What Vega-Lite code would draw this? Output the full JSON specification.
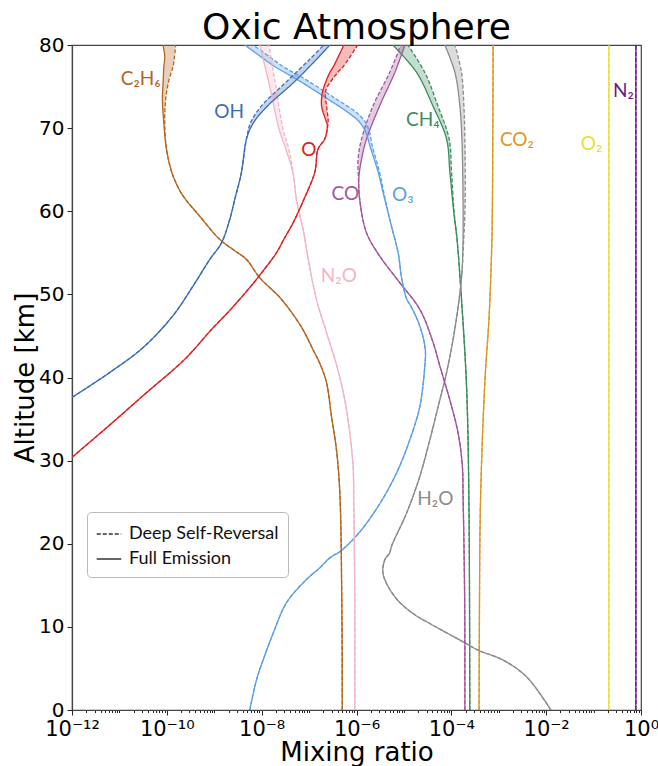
{
  "$schema": "https://vega.github.io/schema/vega-lite/v6.json",
  "width": 569,
  "height": 665,
  "autosize": {"type": "none"},
  "padding": {"left": 72, "top": 45, "right": 17, "bottom": 56},
  "title": {"text": "Oxic Atmosphere", "font": "DejaVu Sans", "fontSize": 36, "fontWeight": "normal", "color": "#000", "anchor": "middle", "frame": "group", "baseline": "alphabetic", "offset": 4, "dy": 44},
  "config": {
    "view": {"stroke": "#444", "strokeWidth": 1.2},
    "axis": {"grid": false, "domainColor": "#444", "domainWidth": 1.2, "tickColor": "#222", "labelColor": "#000", "titleColor": "#000", "labelFont": "DejaVu Sans", "titleFont": "DejaVu Sans", "titleFontWeight": "normal", "labelFontSize": 20, "titleFontSize": 26}
  },
  "datasets": {
    "profiles": [
      {"s":"N2","a":0,"f":0.78,"d":0.78},{"s":"N2","a":80,"f":0.78,"d":0.78},
      {"s":"O2","a":0,"f":0.21,"d":0.21},{"s":"O2","a":80,"f":0.21,"d":0.21},
      {"s":"CO2","a":0,"f":3.85e-4,"d":3.85e-4},{"s":"CO2","a":10,"f":3.9e-4,"d":3.9e-4},{"s":"CO2","a":25.3,"f":4.13e-4,"d":4.13e-4},{"s":"CO2","a":39.4,"f":5.09e-4,"d":5.09e-4},{"s":"CO2","a":47.4,"f":6.27e-4,"d":6.27e-4},{"s":"CO2","a":55,"f":7.05e-4,"d":7.05e-4},{"s":"CO2","a":60,"f":7.33e-4,"d":7.33e-4},{"s":"CO2","a":70,"f":7.5e-4,"d":7.5e-4},{"s":"CO2","a":80,"f":7.62e-4,"d":7.62e-4},
      {"s":"CH4","a":0,"f":2.45e-4,"d":2.45e-4},{"s":"CH4","a":26,"f":2.34e-4,"d":2.34e-4},{"s":"CH4","a":39,"f":2.09e-4,"d":2.09e-4},{"s":"CH4","a":50.6,"f":1.585e-4,"d":1.585e-4},{"s":"CH4","a":56.6,"f":1.32e-4,"d":1.32e-4},{"s":"CH4","a":60,"f":1.12e-4,"d":1.14e-4},{"s":"CH4","a":64.7,"f":9.33e-5,"d":1.01e-4},{"s":"CH4","a":68.7,"f":7.92e-5,"d":8.99e-5},{"s":"CH4","a":72.7,"f":4.07e-5,"d":5.19e-5},{"s":"CH4","a":76.7,"f":1.85e-5,"d":2.76e-5},{"s":"CH4","a":80,"f":5.83e-6,"d":1.21e-5},
      {"s":"H2O","a":0,"f":1.26e-2,"d":1.26e-2},{"s":"H2O","a":4,"f":3.85e-3,"d":3.85e-3},{"s":"H2O","a":6,"f":1.24e-3,"d":1.24e-3},{"s":"H2O","a":7.2,"f":3.67e-4,"d":3.67e-4},{"s":"H2O","a":8.2,"f":1.77e-4,"d":1.77e-4},{"s":"H2O","a":10.4,"f":3.52e-5,"d":3.52e-5},{"s":"H2O","a":11.6,"f":1.56e-5,"d":1.56e-5},{"s":"H2O","a":13.6,"f":6.46e-6,"d":6.46e-6},{"s":"H2O","a":16.4,"f":3.63e-6,"d":3.63e-6},{"s":"H2O","a":18.1,"f":3.98e-6,"d":3.98e-6},{"s":"H2O","a":18.9,"f":5.01e-6,"d":5.01e-6},{"s":"H2O","a":19.7,"f":5.47e-6,"d":5.47e-6},{"s":"H2O","a":23.7,"f":1.14e-5,"d":1.14e-5},{"s":"H2O","a":28.1,"f":2.16e-5,"d":2.16e-5},{"s":"H2O","a":32.5,"f":3.52e-5,"d":3.52e-5},{"s":"H2O","a":37.3,"f":5.71e-5,"d":5.71e-5},{"s":"H2O","a":40.2,"f":7.66e-5,"d":7.66e-5},{"s":"H2O","a":44.6,"f":1.09e-4,"d":1.09e-4},{"s":"H2O","a":49.4,"f":1.46e-4,"d":1.46e-4},{"s":"H2O","a":52.6,"f":1.67e-4,"d":1.67e-4},{"s":"H2O","a":55.4,"f":1.75e-4,"d":1.78e-4},{"s":"H2O","a":60.6,"f":1.77e-4,"d":1.95e-4},{"s":"H2O","a":68.7,"f":1.67e-4,"d":1.93e-4},{"s":"H2O","a":72.7,"f":1.51e-4,"d":1.84e-4},{"s":"H2O","a":76.7,"f":1.19e-4,"d":1.64e-4},{"s":"H2O","a":80,"f":7.29e-5,"d":1.19e-4},
      {"s":"CO","a":0,"f":1.93e-4,"d":1.93e-4},{"s":"CO","a":13.3,"f":1.91e-4,"d":1.91e-4},{"s":"CO","a":25.7,"f":1.77e-4,"d":1.77e-4},{"s":"CO","a":29.3,"f":1.71e-4,"d":1.71e-4},{"s":"CO","a":33.3,"f":1.39e-4,"d":1.39e-4},{"s":"CO","a":37.3,"f":9.29e-5,"d":9.29e-5},{"s":"CO","a":41.4,"f":5.71e-5,"d":5.71e-5},{"s":"CO","a":44.2,"f":4.13e-5,"d":4.13e-5},{"s":"CO","a":48.2,"f":2.16e-5,"d":2.16e-5},{"s":"CO","a":51.4,"f":8.2e-6,"d":8.2e-6},{"s":"CO","a":54.6,"f":3.09e-6,"d":3.09e-6},{"s":"CO","a":57.4,"f":1.63e-6,"d":1.63e-6},{"s":"CO","a":61.4,"f":1.17e-6,"d":1.17e-6},{"s":"CO","a":63.9,"f":1.12e-6,"d":1.1e-6},{"s":"CO","a":66.3,"f":1.28e-6,"d":1.08e-6},{"s":"CO","a":68.7,"f":1.63e-6,"d":1.28e-6},{"s":"CO","a":72.7,"f":3.09e-6,"d":2.24e-6},{"s":"CO","a":76.7,"f":6.43e-6,"d":5.01e-6},{"s":"CO","a":80,"f":1.05e-5,"d":8.61e-6},
      {"s":"O3","a":0,"f":5.61e-9,"d":5.61e-9},{"s":"O3","a":3.6,"f":7.76e-9,"d":7.76e-9},{"s":"O3","a":6,"f":1.07e-8,"d":1.07e-8},{"s":"O3","a":9.2,"f":1.74e-8,"d":1.74e-8},{"s":"O3","a":12.9,"f":3.33e-8,"d":3.33e-8},{"s":"O3","a":15.7,"f":8.81e-8,"d":8.81e-8},{"s":"O3","a":17.1,"f":1.68e-7,"d":1.68e-7},{"s":"O3","a":18.3,"f":2.74e-7,"d":2.74e-7},{"s":"O3","a":19.2,"f":4.83e-7,"d":4.83e-7},{"s":"O3","a":21.3,"f":1.12e-6,"d":1.12e-6},{"s":"O3","a":24.5,"f":2.86e-6,"d":2.86e-6},{"s":"O3","a":28.5,"f":6.98e-6,"d":6.98e-6},{"s":"O3","a":32.5,"f":1.33e-5,"d":1.33e-5},{"s":"O3","a":36.5,"f":2.16e-5,"d":2.16e-5},{"s":"O3","a":41.4,"f":2.76e-5,"d":2.76e-5},{"s":"O3","a":43.4,"f":2.82e-5,"d":2.82e-5},{"s":"O3","a":46.2,"f":2.16e-5,"d":2.16e-5},{"s":"O3","a":48.6,"f":1.4e-5,"d":1.4e-5},{"s":"O3","a":49.4,"f":1.15e-5,"d":1.15e-5},{"s":"O3","a":51.8,"f":9.04e-6,"d":9.04e-6},{"s":"O3","a":55,"f":7.55e-6,"d":7.55e-6},{"s":"O3","a":58.2,"f":5.47e-6,"d":5.47e-6},{"s":"O3","a":61.4,"f":3.95e-6,"d":4.05e-6},{"s":"O3","a":64.7,"f":2.86e-6,"d":3.06e-6},{"s":"O3","a":67.9,"f":1.91e-6,"d":2.14e-6},{"s":"O3","a":69.5,"f":1.57e-6,"d":1.89e-6},{"s":"O3","a":70.7,"f":1.17e-6,"d":1.55e-6},{"s":"O3","a":71.9,"f":6.55e-7,"d":9.91e-7},{"s":"O3","a":73.5,"f":2.48e-7,"d":3.75e-7},{"s":"O3","a":75.8,"f":5.78e-8,"d":8.75e-8},{"s":"O3","a":77.4,"f":1.89e-8,"d":2.86e-8},{"s":"O3","a":78.6,"f":9.57e-9,"d":1.45e-8},{"s":"O3","a":80,"f":4.4e-9,"d":6.65e-9},
      {"s":"N2O","a":0,"f":9.2e-7,"d":9.2e-7},{"s":"N2O","a":13.3,"f":9.2e-7,"d":9.2e-7},{"s":"N2O","a":25,"f":8.77e-7,"d":8.77e-7},{"s":"N2O","a":29.3,"f":8.47e-7,"d":8.47e-7},{"s":"N2O","a":33.3,"f":7.23e-7,"d":7.23e-7},{"s":"N2O","a":37.3,"f":5.66e-7,"d":5.66e-7},{"s":"N2O","a":41.4,"f":3.84e-7,"d":3.84e-7},{"s":"N2O","a":45.4,"f":2.33e-7,"d":2.33e-7},{"s":"N2O","a":49.4,"f":1.43e-7,"d":1.43e-7},{"s":"N2O","a":55.4,"f":8.81e-8,"d":8.81e-8},{"s":"N2O","a":57.4,"f":7.73e-8,"d":7.73e-8},{"s":"N2O","a":61.4,"f":5.42e-8,"d":5.42e-8},{"s":"N2O","a":64.7,"f":4.53e-8,"d":4.6e-8},{"s":"N2O","a":67.5,"f":3.22e-8,"d":3.73e-8},{"s":"N2O","a":70,"f":2.3e-8,"d":2.79e-8},{"s":"N2O","a":75,"f":1.48e-8,"d":1.99e-8},{"s":"N2O","a":80,"f":9.12e-9,"d":1.41e-8},
      {"s":"C2H6","a":0,"f":5.01e-7,"d":5.01e-7},{"s":"C2H6","a":13,"f":4.9e-7,"d":4.9e-7},{"s":"C2H6","a":26.1,"f":4.45e-7,"d":4.45e-7},{"s":"C2H6","a":31.3,"f":3.78e-7,"d":3.78e-7},{"s":"C2H6","a":35.3,"f":2.97e-7,"d":2.97e-7},{"s":"C2H6","a":39.4,"f":2.33e-7,"d":2.33e-7},{"s":"C2H6","a":41.4,"f":1.77e-7,"d":1.77e-7},{"s":"C2H6","a":43.4,"f":1.2e-7,"d":1.2e-7},{"s":"C2H6","a":46.2,"f":6.68e-8,"d":6.68e-8},{"s":"C2H6","a":49.5,"f":2.53e-8,"d":2.53e-8},{"s":"C2H6","a":52,"f":9.12e-9,"d":9.12e-9},{"s":"C2H6","a":54.2,"f":4.78e-9,"d":4.78e-9},{"s":"C2H6","a":55.4,"f":2.49e-9,"d":2.49e-9},{"s":"C2H6","a":56.6,"f":1.31e-9,"d":1.31e-9},{"s":"C2H6","a":59.4,"f":4.94e-10,"d":4.94e-10},{"s":"C2H6","a":61.4,"f":2.51e-10,"d":2.51e-10},{"s":"C2H6","a":62.5,"f":1.87e-10,"d":1.87e-10},{"s":"C2H6","a":64.7,"f":1.27e-10,"d":1.27e-10},{"s":"C2H6","a":67.5,"f":9.82e-11,"d":9.82e-11},{"s":"C2H6","a":70.7,"f":8.61e-11,"d":9.04e-11},{"s":"C2H6","a":73.5,"f":8.07e-11,"d":9.48e-11},{"s":"C2H6","a":75.8,"f":8.4e-11,"d":1.11e-10},{"s":"C2H6","a":77.4,"f":8.65e-11,"d":1.35e-10},{"s":"C2H6","a":78.6,"f":9.04e-11,"d":1.45e-10},{"s":"C2H6","a":80,"f":8.32e-11,"d":1.54e-10},
      {"s":"OH","a":37.6,"f":1e-12,"d":1e-12},{"s":"OH","a":40.6,"f":6.24e-12,"d":6.24e-12},{"s":"OH","a":43.6,"f":3.15e-11,"d":3.15e-11},{"s":"OH","a":47.4,"f":1.33e-10,"d":1.33e-10},{"s":"OH","a":51,"f":3.57e-10,"d":3.57e-10},{"s":"OH","a":54.2,"f":8.04e-10,"d":8.04e-10},{"s":"OH","a":56.2,"f":1.42e-9,"d":1.42e-9},{"s":"OH","a":59,"f":2.12e-9,"d":2.12e-9},{"s":"OH","a":61.4,"f":2.7e-9,"d":2.7e-9},{"s":"OH","a":64.7,"f":3.75e-9,"d":3.75e-9},{"s":"OH","a":68.7,"f":4.78e-9,"d":4.78e-9},{"s":"OH","a":70.7,"f":6.81e-9,"d":5.89e-9},{"s":"OH","a":72.7,"f":1.35e-8,"d":1e-8},{"s":"OH","a":75.5,"f":4.75e-8,"d":3.22e-8},{"s":"OH","a":78.3,"f":1.45e-7,"d":1.04e-7},{"s":"OH","a":80,"f":2.74e-7,"d":2.04e-7},
      {"s":"O","a":30.4,"f":1e-12,"d":1e-12},{"s":"O","a":34.5,"f":6.89e-12,"d":6.89e-12},{"s":"O","a":38.2,"f":3.77e-11,"d":3.77e-11},{"s":"O","a":42.2,"f":2.39e-10,"d":2.39e-10},{"s":"O","a":45.8,"f":8.85e-10,"d":8.85e-10},{"s":"O","a":48.2,"f":2.23e-9,"d":2.23e-9},{"s":"O","a":51.4,"f":6.81e-9,"d":6.81e-9},{"s":"O","a":53.4,"f":1.28e-8,"d":1.28e-8},{"s":"O","a":55,"f":2.05e-8,"d":2.05e-8},{"s":"O","a":56.6,"f":2.92e-8,"d":2.92e-8},{"s":"O","a":58.6,"f":4.59e-8,"d":4.59e-8},{"s":"O","a":61.4,"f":7.73e-8,"d":7.73e-8},{"s":"O","a":64.7,"f":1.32e-7,"d":1.32e-7},{"s":"O","a":67.5,"f":1.55e-7,"d":1.55e-7},{"s":"O","a":68.7,"f":2.14e-7,"d":2.14e-7},{"s":"O","a":70.3,"f":2.42e-7,"d":2.48e-7},{"s":"O","a":71.1,"f":2.2e-7,"d":2.52e-7},{"s":"O","a":72.7,"f":1.83e-7,"d":2.33e-7},{"s":"O","a":74.5,"f":1.95e-7,"d":2.25e-7},{"s":"O","a":76.7,"f":2.74e-7,"d":4.03e-7},{"s":"O","a":77.5,"f":3.32e-7,"d":5.4e-7},{"s":"O","a":80,"f":5.4e-7,"d":1.06e-6}
    ],
    "labels": [
      {"s":"C2H6","x":2.81e-11,"y":75.9,"label":"C₂H₆"},
      {"s":"OH","x":2.07e-9,"y":71.9,"label":"OH"},
      {"s":"O","x":9.86e-8,"y":67.4,"label":"O"},
      {"s":"CO","x":5.81e-7,"y":62.1,"label":"CO"},
      {"s":"O3","x":9.48e-6,"y":61.9,"label":"O₃"},
      {"s":"N2O","x":4.24e-7,"y":52.2,"label":"N₂O"},
      {"s":"CH4","x":2.51e-5,"y":71.0,"label":"CH₄"},
      {"s":"CO2","x":2.41e-3,"y":68.6,"label":"CO₂"},
      {"s":"O2","x":9.08e-2,"y":68.1,"label":"O₂"},
      {"s":"N2","x":0.426,"y":74.5,"label":"N₂"},
      {"s":"H2O","x":4.6e-5,"y":25.4,"label":"H₂O"}
    ]
  },
  "layer": [
    {
      "data": {"name": "profiles"},
      "mark": {"type": "area", "orient": "horizontal", "opacity": 0.3, "clip": true, "interpolate": "catmull-rom"},
      "encoding": {
        "y": {"field": "a", "type": "quantitative", "title": "Altitude [km]",
          "scale": {"domain": [0, 80], "nice": false},
          "axis": {"values": [0,10,20,30,40,50,60,70,80], "tickSize": 5, "labelPadding": 3, "titlePadding": 0}},
        "x": {"field": "f", "type": "quantitative", "title": "Mixing ratio",
          "scale": {"type": "log", "domain": [1e-12, 1], "nice": false},
          "axis": {
            "values": [1e-12,2e-12,3e-12,4e-12,5e-12,6e-12,7e-12,8e-12,9e-12,1e-11,2e-11,3e-11,4e-11,5e-11,6e-11,7e-11,8e-11,9e-11,1e-10,2e-10,3e-10,4e-10,5e-10,6e-10,7e-10,8e-10,9e-10,1e-9,2e-9,3e-9,4e-9,5e-9,6e-9,7e-9,8e-9,9e-9,1e-8,2e-8,3e-8,4e-8,5e-8,6e-8,7e-8,8e-8,9e-8,1e-7,2e-7,3e-7,4e-7,5e-7,6e-7,7e-7,8e-7,9e-7,1e-6,2e-6,3e-6,4e-6,5e-6,6e-6,7e-6,8e-6,9e-6,1e-5,2e-5,3e-5,4e-5,5e-5,6e-5,7e-5,8e-5,9e-5,1e-4,2e-4,3e-4,4e-4,5e-4,6e-4,7e-4,8e-4,9e-4,1e-3,2e-3,3e-3,4e-3,5e-3,6e-3,7e-3,8e-3,9e-3,1e-2,2e-2,3e-2,4e-2,5e-2,6e-2,7e-2,8e-2,9e-2,0.1,0.2,0.3,0.4,0.5,0.6,0.7,0.8,0.9,1],
            "labelExpr": "abs(log(datum.value)/LN10 - round(log(datum.value)/LN10)) > 0.01 ? '' : round(log(datum.value)/LN10) == -12 ? '10⁻¹²' : round(log(datum.value)/LN10) == -10 ? '10⁻¹⁰' : round(log(datum.value)/LN10) == -8 ? '10⁻⁸' : round(log(datum.value)/LN10) == -6 ? '10⁻⁶' : round(log(datum.value)/LN10) == -4 ? '10⁻⁴' : round(log(datum.value)/LN10) == -2 ? '10⁻²' : round(log(datum.value)/LN10) == 0 ? '10⁰' : ''",
            "labelOverlap": false, "labelFlush": false, "labelBound": false, "labelPadding": 3, "titlePadding": 0, "labelFontSize": 21,
            "tickSize": {"condition": {"test": "abs(log(datum.value)/LN10 - round(log(datum.value)/LN10)) < 0.01 && round(log(datum.value)/LN10) % 2 == 0", "value": 5}, "value": 2.5}
          }},
        "x2": {"field": "d"},
        "color": {"field": "s", "type": "nominal", "legend": null,
          "scale": {"domain": ["N2","O2","CO2","CH4","H2O","CO","O3","N2O","C2H6","OH","O"],
                    "range": ["#6a1b8a","#e6e033","#d9991f","#3a8d5c","#8c8c8c","#a3569e","#5b9fe8","#f2b5c4","#b5651d","#3b6db5","#e02020"]}}
      }
    },
    {
      "data": {"name": "profiles"},
      "transform": [{"fold": ["f", "d"], "as": ["t", "v"]}],
      "mark": {"type": "line", "strokeWidth": 1.3, "clip": true, "interpolate": "catmull-rom"},
      "encoding": {
        "y": {"field": "a", "type": "quantitative", "title": "Altitude [km]"},
        "x": {"field": "v", "type": "quantitative", "title": "Mixing ratio"},
        "color": {"field": "s", "type": "nominal", "legend": null},
        "order": {"field": "a", "type": "quantitative"},
        "strokeDash": {"field": "t", "type": "nominal",
          "scale": {"domain": ["d", "f"], "range": [[4, 2], [1, 0]]},
          "legend": {"orient": "none", "legendX": 15, "legendY": 467, "title": null,
            "labelExpr": "datum.label == 'd' ? 'Deep Self-Reversal' : 'Full Emission'",
            "strokeColor": "#bbb", "fillColor": "white", "padding": 9, "cornerRadius": 4,
            "labelFont": "Lato", "labelFontSize": 18, "labelColor": "#111", "labelOffset": 7,
            "symbolType": "stroke", "symbolStrokeColor": "#333", "symbolStrokeWidth": 1.5, "symbolSize": 600, "rowPadding": 3}}
      }
    },
    {
      "data": {"name": "labels"},
      "mark": {"type": "text", "font": "Lato", "fontSize": 19, "align": "center", "baseline": "middle"},
      "encoding": {
        "x": {"field": "x", "type": "quantitative", "title": "Mixing ratio"},
        "y": {"field": "y", "type": "quantitative", "title": "Altitude [km]"},
        "text": {"field": "label"},
        "color": {"field": "s", "type": "nominal", "legend": null}
      }
    }
  ]
}
